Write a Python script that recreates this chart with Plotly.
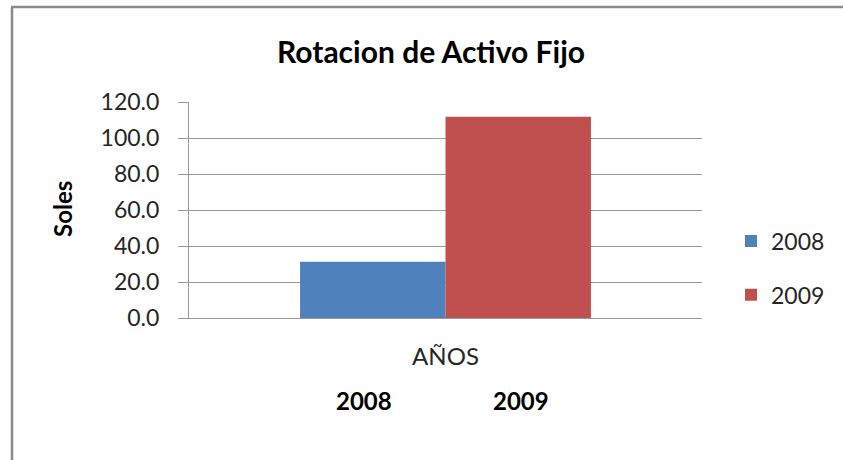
import plotly.graph_objects as go

# data
categoria = ["AÑOS"]
anios = ["2008", "2009"]
valores = [31.2, 111.8]
colores = ["#4F81BD", "#C0504D"]

W, H = 843, 460
L, T = 189, 102
pw, ph = 513, 216
R, B = W - L - pw, H - T - ph

def px(x):
    # pixel x -> paper x
    return (x - L) / pw

def py(y):
    # pixel y -> paper y
    return (T + ph - y) / ph

fig = go.Figure()
for a, v, c in zip(anios, valores, colores):
    fig.add_trace(go.Bar(x=categoria, y=[v], name=a, legendgroup=a,
                         marker=dict(color=c, line=dict(width=0))))

fig.update_layout(
    width=W, height=H,
    margin=dict(l=L, r=R, t=T, b=B),
    paper_bgcolor="white", plot_bgcolor="white",
    font=dict(family="Lato, Noto Sans, sans-serif", size=23, color="#262626"),
    barmode="group", bargap=0.433, bargroupgap=0,
    showlegend=True,
    legend=dict(x=px(731), y=py(268), xanchor="left", yanchor="middle",
                font=dict(size=23, color="#262626"), tracegroupgap=21,
                itemwidth=30),
    title=dict(text="<b>Rotacion de Activo Fijo</b>", xref="container",
               x=431 / W, xanchor="center",
               y=1 - 52 / H, yanchor="middle", font=dict(size=30, color="black")),
)
fig.update_yaxes(range=[0, 120], dtick=20, tickformat=".1f",
                 showgrid=True, gridcolor="#9a9a9a", gridwidth=1,
                 showline=True, linecolor="#9a9a9a", ticks="outside",
                 ticklen=10, tickcolor="#9a9a9a", zeroline=False,
                 ticklabelstandoff=14,
                 tickfont=dict(size=23, color="#262626"))
fig.update_xaxes(showline=True, linecolor="#9a9a9a", ticks="",
                 ticklabelstandoff=17,
                 tickfont=dict(size=24, color="#262626"))

# axis title
fig.add_annotation(text="<b>Soles</b>", x=px(62), y=py(209), xref="paper", yref="paper",
                   xanchor="center", yanchor="middle",
                   textangle=-90, showarrow=False, font=dict(size=24, color="black"))

# year labels below the category axis
for a, xpos in zip(anios, [364, 521]):
    fig.add_annotation(text="<b>" + a + "</b>", x=px(xpos), y=py(400), xref="paper", yref="paper",
                       xanchor="center", yanchor="middle",
                       showarrow=False, font=dict(size=24, color="black"))

# chart border (only left and top edges are in view)
fig.add_shape(type="line", xref="paper", yref="paper",
              x0=px(12), x1=px(12), y0=py(7), y1=py(470),
              line=dict(color="#8a8a8a", width=2.5), layer="below")
fig.add_shape(type="line", xref="paper", yref="paper",
              x0=px(11), x1=px(860), y0=py(7), y1=py(7),
              line=dict(color="#8a8a8a", width=2.5), layer="below")

fig.write_html("out.html", config={"displayModeBar": False},
               post_script="document.body.style.margin='0';document.body.style.overflow='hidden';")
